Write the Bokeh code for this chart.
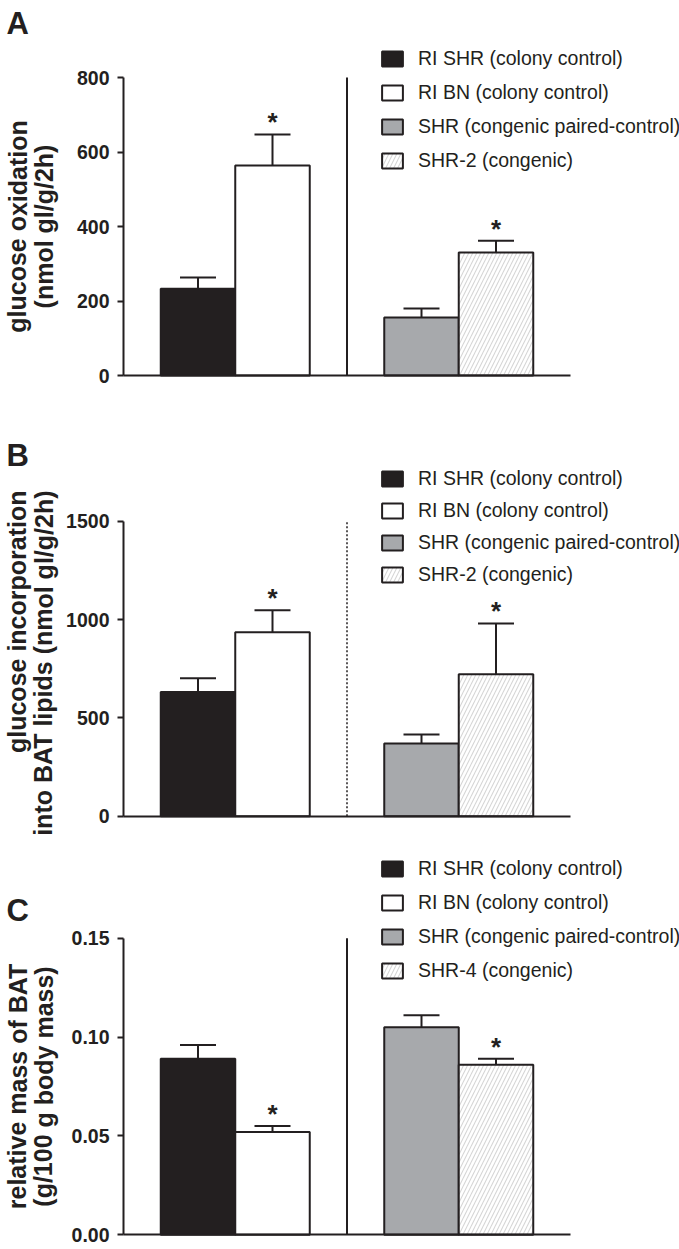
from bokeh.plotting import figure
from bokeh.models import (Label, Legend, LegendItem, FixedTicker, Whisker,
                          TeeHead, ColumnDataSource, Range1d, LinearAxis)
from bokeh.layouts import column
from bokeh.core.properties import value
from bokeh.embed import file_html
from bokeh.resources import INLINE

# ---------------- data ----------------
legend_A = ["RI SHR (colony control)", "RI BN (colony control)",
            "SHR (congenic paired-control)", "SHR-2 (congenic)"]
legend_B = ["RI SHR (colony control)", "RI BN (colony control)",
            "SHR (congenic paired-control)", "SHR-2 (congenic)"]
legend_C = ["RI SHR (colony control)", "RI BN (colony control)",
            "SHR (congenic paired-control)", "SHR-4 (congenic)"]

glucose_oxidation = [233, 564, 156, 330]
glucose_oxidation_sem = [30, 83, 24, 32]
glucose_oxidation_sig = [False, True, False, True]

glucose_incorporation = [632, 935, 370, 722]
glucose_incorporation_sem = [70, 112, 46, 258]
glucose_incorporation_sig = [False, True, False, True]

bat_mass = [0.089, 0.052, 0.105, 0.086]
bat_mass_sem = [0.007, 0.003, 0.006, 0.003]
bat_mass_sig = [False, True, False, True]

ticks_A = [0, 200, 400, 600, 800]
tick_labels_A = ["0", "200", "400", "600", "800"]
ticks_B = [0, 500, 1000, 1500]
tick_labels_B = ["0", "500", "1000", "1500"]
ticks_C = [0, 0.05, 0.10, 0.15]
tick_labels_C = ["0.00", "0.05", "0.10", "0.15"]

ylabel_A = ["glucose oxidation", "(nmol gl/g/2h)"]
ylabel_B = ["glucose incorporation", "into BAT lipids (nmol gl/g/2h)"]
ylabel_C = ["relative mass of BAT", "(g/100 g body mass)"]

# ---------------- style / layout ----------------
INK = "#231f20"
FILLS = ["#231f20", "#ffffff", "#a7a9ac", "#ffffff"]
HATCH = [" ", " ", " ", "/"]
FONT = "Liberation Sans"
W = 679            # canvas width
AXIS_PX = 123      # pixel x of the y axis
XEND_PX = 570      # pixel x where the baseline ends
X0, X1 = -1, 5     # data x of axis / end of baseline
PPX = (XEND_PX - AXIS_PX) / (X1 - X0)


def panel(letter, vals, errs, sig, legend_labels, ticks, tick_labels, ylabel,
          label_align, label_y, divider_dash, top_px, bottom_px, zero_px, max_px,
          legend_loc, legend_spacing, letter_y):
    H = bottom_px - top_px
    ymax = ticks[-1]
    ppy = (zero_px - max_px) / ymax
    y_start = -(bottom_px - zero_px) / ppy
    y_end = ymax + (max_px - top_px) / ppy
    x_start = X0 - AXIS_PX / PPX
    x_end = X1 + (W - XEND_PX) / PPX

    xs = [i + i // 2 for i in range(len(vals))]
    src = ColumnDataSource(dict(
        x=xs, top=vals, upper=[v + e for v, e in zip(vals, errs)],
        fill=FILLS, hatch=HATCH))

    p = figure(width=W, height=H, min_border=0,
               x_range=Range1d(x_start, x_end), y_range=Range1d(y_start, y_end),
               x_axis_location=None, y_axis_location=None,
               output_backend="svg", toolbar_location=None,
               background_fill_color="white", border_fill_color="white")
    p.outline_line_color = None
    p.grid.visible = False

    # y axis, pinned at x = X0
    ya = LinearAxis(fixed_location=X0, bounds=(0, ymax))
    ya.ticker = FixedTicker(ticks=ticks)
    ya.major_label_overrides = {t: s for t, s in zip(ticks, tick_labels)}
    ya.axis_line_width = 2
    ya.axis_line_color = INK
    ya.major_tick_line_width = 2
    ya.major_tick_line_color = INK
    ya.major_tick_out = 6
    ya.major_tick_in = 0
    ya.minor_tick_line_color = None
    ya.major_label_text_font = FONT
    ya.major_label_text_font_style = "bold"
    ya.major_label_text_font_size = "19.5px"
    ya.major_label_text_color = INK
    ya.major_label_standoff = 8
    p.add_layout(ya, "left")

    # x baseline, pinned at y = 0
    xa = LinearAxis(fixed_location=0, bounds=(X0, X1))
    xa.ticker = FixedTicker(ticks=[])
    xa.major_label_text_font_size = "0px"
    xa.major_tick_out = 0
    xa.major_tick_in = 0
    xa.minor_tick_line_color = None
    xa.major_label_standoff = 0
    xa.axis_line_width = 2
    xa.axis_line_color = INK
    p.add_layout(xa, "below")

    # divider between the two experiments
    p.segment(x0=[2], y0=[0], x1=[2], y1=[ymax], line_color=INK,
              line_width=2 if divider_dash == "solid" else 1.5,
              line_dash=divider_dash)

    # error bars
    p.add_layout(Whisker(source=src, base="x", lower="top", upper="upper",
                         line_color=INK, line_width=2, level="glyph",
                         upper_head=TeeHead(size=36, line_width=2, line_color=INK),
                         lower_head=None))

    bars = p.vbar(x="x", top="top", bottom=0, width=1, source=src,
                  fill_color="fill", line_color=INK, line_width=2,
                  hatch_pattern="hatch", hatch_color="#d6d6d6",
                  hatch_weight=1.1, hatch_scale=8)

    # significance asterisks
    sx = [x for x, s in zip(xs, sig) if s]
    sy = [v + e for v, e, s in zip(vals, errs, sig) if s]
    p.text(x=sx, y=sy, text=["*"] * len(sx), text_align="center",
           text_baseline="alphabetic", y_offset=-12,
           text_font=value(FONT), text_font_style="bold",
           text_font_size="26px", text_color=INK)

    # legend
    items = [LegendItem(label=lab, renderers=[bars], index=i)
             for i, lab in enumerate(legend_labels)]
    leg = Legend(items=items, location=legend_loc, orientation="vertical",
                 glyph_width=26, glyph_height=19, label_height=19,
                 label_standoff=13, spacing=legend_spacing, padding=0,
                 margin=0, border_line_color=None, background_fill_alpha=0,
                 label_text_font=FONT, label_text_font_size="19.5px",
                 label_text_color=INK)
    p.add_layout(leg)

    # y-axis title (two lines)
    for line, dx in zip(ylabel, (17, 43)):
        p.add_layout(Label(x=dx, y=label_y, x_units="screen", y_units="screen",
                           text=line, angle=1.5707963, text_align=label_align,
                           text_baseline="middle", text_font=FONT,
                           text_font_style="bold", text_font_size="25px",
                           text_color=INK))

    # panel letter
    p.add_layout(Label(x=6, y=letter_y, x_units="screen", y_units="screen",
                       text=letter, text_align="left", text_baseline="alphabetic",
                       text_font=FONT, text_font_style="bold",
                       text_font_size="31px", text_color=INK))
    return p


pA = panel("A", glucose_oxidation, glucose_oxidation_sem, glucose_oxidation_sig,
           legend_A, ticks_A, tick_labels_A, ylabel_A, "center", 194, "solid",
           0, 420, 375, 77, (379, 248), 11, 397)
pB = panel("B", glucose_incorporation, glucose_incorporation_sem,
           glucose_incorporation_sig, legend_B, ticks_B, tick_labels_B, ylabel_B,
           "right", 360, "2 2", 420, 850, 815.7, 520.7, (379, 264), 9, 395)
pC = panel("C", bat_mass, bat_mass_sem, bat_mass_sig, legend_C, ticks_C,
           tick_labels_C, ylabel_C, "center", 163, "solid",
           850, 1249, 1234.3, 937.7, (379, 267), 11, 339)

layout = column(pA, pB, pC, spacing=0)
open("out.html", "w").write(file_html(layout, INLINE))
